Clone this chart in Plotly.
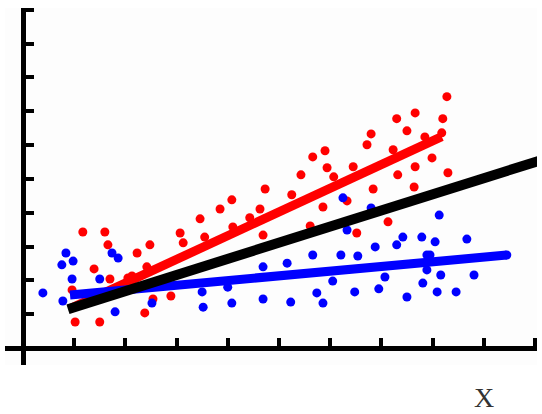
import plotly.graph_objects as go

# Red sample
red_x = [1.17, 1.60, 1.66, 1.39, 1.70, 1.02, 1.50, 2.23, 2.48, 2.42, 3.07, 3.13, 2.54, 2.38,
         2.89, 0.96, 2.05, 3.46, 3.55, 3.85, 4.08, 4.10, 4.43, 4.63, 4.69, 4.73, 5.25, 5.43,
         5.61, 5.86, 5.66, 5.90, 5.94, 6.07, 6.45, 6.33, 6.52, 7.13, 6.84, 7.64, 7.32, 7.66,
         8.30, 6.72, 6.80, 7.23, 7.99, 7.50, 7.30, 7.66, 8.20, 8.28, 7.85, 8.18, 2.13]
red_y = [3.43, 3.43, 3.05, 2.34, 2.04, 0.77, 0.77, 2.81, 3.05, 2.40, 3.40, 3.11, 1.45, 1.04,
         1.54, 1.72, 2.07, 3.82, 3.28, 4.11, 4.38, 3.58, 3.85, 4.11, 3.34, 4.70, 4.53, 5.12,
         3.61, 4.17, 5.65, 5.83, 5.33, 5.06, 5.36, 4.35, 3.40, 3.73, 4.70, 4.76, 5.12, 5.36,
         5.18, 6.01, 6.33, 5.86, 5.62, 6.42, 6.78, 6.95, 6.78, 7.43, 6.24, 6.36, 2.13]

# Blue sample
blue_x = [0.39, 0.84, 0.98, 0.76, 0.96, 1.50, 1.74, 1.86, 0.78, 1.80, 2.52, 3.50, 4.00, 3.52,
          4.08, 4.69, 5.23, 4.69, 5.16, 5.66, 6.21, 6.54, 5.74, 5.86, 6.05, 6.48, 6.25, 6.33,
          6.80, 8.13, 7.42, 7.30, 6.88, 7.79, 8.05, 8.67, 6.95, 7.07, 7.50, 7.81, 7.89, 8.09,
          8.16, 8.46, 8.81, 7.89, 7.95, 9.45]
blue_y = [1.63, 2.81, 2.57, 2.46, 2.04, 2.04, 2.81, 2.66, 1.39, 1.07, 1.33, 1.66, 1.80, 1.21,
          1.33, 1.45, 1.36, 2.40, 2.51, 2.75, 2.75, 2.72, 1.63, 1.33, 1.98, 1.66, 4.44, 3.49,
          4.14, 3.93, 3.28, 3.05, 2.99, 3.28, 3.14, 3.22, 1.75, 2.10, 1.51, 1.92, 2.31, 1.66,
          2.16, 1.66, 2.16, 2.75, 2.75, 2.75]

# Fitted lines (end points)
red_fit_x = [0.90, 8.18]
red_fit_y = [1.15, 6.25]
blue_fit_x = [0.92, 9.45]
blue_fit_y = [1.57, 2.75]
all_fit_x = [0.88, 10.30]
all_fit_y = [1.15, 5.64]

tick_vals = list(range(1, 11))

X_RANGE = [-0.35, 10.04]
Y_RANGE = [-0.5, 10.05]

fig = go.Figure()
fig.add_trace(go.Scatter(x=red_x, y=red_y, mode="markers",
                         marker=dict(color="#ff0000", size=9, line=dict(width=0))))
fig.add_trace(go.Scatter(x=blue_x, y=blue_y, mode="markers",
                         marker=dict(color="#0000ff", size=9, line=dict(width=0))))
fig.add_trace(go.Scatter(x=red_fit_x, y=red_fit_y, mode="lines",
                         line=dict(color="#ff0000", width=9)))
fig.add_trace(go.Scatter(x=blue_fit_x, y=blue_fit_y, mode="lines",
                         line=dict(color="#0000ff", width=9)))
fig.add_trace(go.Scatter(x=all_fit_x, y=all_fit_y, mode="lines",
                         line=dict(color="#000000", width=10)))

x_frac = (0 - X_RANGE[0]) / (X_RANGE[1] - X_RANGE[0])
y_frac = (0 - Y_RANGE[0]) / (Y_RANGE[1] - Y_RANGE[0])

fig.update_layout(
    width=542, height=414,
    margin=dict(l=5, r=5, t=8, b=49),
    paper_bgcolor="#ffffff", plot_bgcolor="#fdfdfd",
    showlegend=False,
    xaxis=dict(range=X_RANGE, anchor="free", position=y_frac,
               showline=True, linewidth=5, linecolor="black",
               ticks="inside", tickvals=tick_vals, ticklen=8, tickwidth=4,
               tickcolor="black", showticklabels=False,
               showgrid=False, zeroline=False),
    yaxis=dict(range=Y_RANGE, anchor="free", position=x_frac,
               showline=True, linewidth=5, linecolor="black",
               ticks="inside", tickvals=tick_vals, ticklen=8, tickwidth=4,
               tickcolor="black", showticklabels=False,
               showgrid=False, zeroline=False),
    annotations=[dict(text="X", x=9.0, xref="x", y=-0.092, yref="paper",
                      xanchor="center", yanchor="middle", showarrow=False,
                      font=dict(family="Liberation Serif", size=28, color="#333333"))],
)

fig.write_html("out.html")
